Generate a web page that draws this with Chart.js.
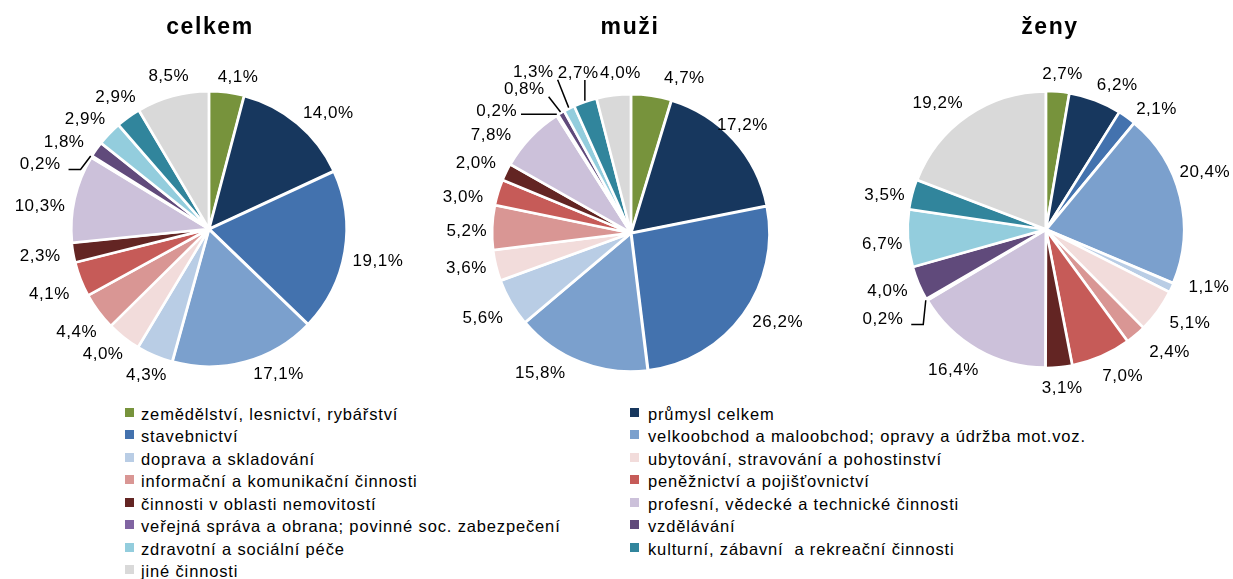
<!DOCTYPE html>
<html>
<head>
<meta charset="utf-8">
<script src="https://cdn.jsdelivr.net/npm/chart.js@4.4.0/dist/chart.umd.min.js"></script>
<style>
  body { margin: 0; width: 1233px; height: 579px; overflow: hidden; background: #fff;
         font-family: "Liberation Sans", Arial, sans-serif; position: relative; }
  canvas { position: absolute; top: 0; }
  .title { position: absolute; top: 13px; width: 200px; text-align: center;
           font-weight: bold; font-size: 23px; line-height: 26px; letter-spacing: 1.6px; color: #000; }
  .leg { position: absolute; font-size: 16.5px; line-height: 20px; letter-spacing: 0.85px;
         color: #000; white-space: pre; }
  .sq { position: absolute; width: 9px; height: 9px; }
</style>
</head>
<body>
<canvas id="c1" width="418" height="400" style="left:0px"></canvas>
<canvas id="c2" width="420" height="400" style="left:421px"></canvas>
<canvas id="c3" width="374" height="400" style="left:859px"></canvas>
<div id="titles"></div>
<div id="legend"></div>
<script>
// kategorie (pořadí jako v legendě)
const categories = [
  'zemědělství, lesnictví, rybářství',
  'průmysl celkem',
  'stavebnictví',
  'velkoobchod a maloobchod; opravy a údržba mot.voz.',
  'doprava a skladování',
  'ubytování, stravování a pohostinství',
  'informační a komunikační činnosti',
  'peněžnictví a pojišťovnictví',
  'činnosti v oblasti nemovitostí',
  'profesní, vědecké a technické činnosti',
  'veřejná správa a obrana; povinné soc. zabezpečení',
  'vzdělávání',
  'zdravotní a sociální péče',
  'kulturní, zábavní  a rekreační činnosti',
  'jiné činnosti'
];
const colors = ['#77933C', '#17375E', '#4372AE', '#7BA0CD', '#B9CDE5', '#F2DCDB', '#D99694',
  '#C65B58', '#632523', '#CCC1DA', '#8064A2', '#604A7B', '#93CDDD', '#31859C', '#D9D9D9'];

// podíly v %
const celkem = [4.1, 14.0, 19.1, 17.1, 4.3, 4.0, 4.4, 4.1, 2.3, 10.3, 0.2, 1.8, 2.9, 2.9, 8.5];
const muzi   = [4.7, 17.2, 26.2, 15.8, 5.6, 3.6, 5.2, 3.0, 2.0, 7.8, 0.2, 0.8, 1.3, 2.7, 4.0];
const zeny   = [2.7, 6.2, 2.1, 20.4, 1.1, 5.1, 2.4, 7.0, 3.1, 16.4, 0.2, 4.0, 6.7, 3.5, 19.2];

const titles = ['celkem', 'muži', 'ženy'];

// posuny popisků (Excel je rozmisťuje ručně)
const nudges1 = {0:[7,6], 1:[6,6], 2:[-5,6], 3:[23,-8], 4:[5,0], 6:[5,8], 7:[0,7], 9:[3,12],
  10:[-23,19,'elbow'], 11:[-5,5], 13:[7,-3], 14:[5,1]};
const nudges2 = {0:[28,4], 1:[-20,0], 2:[3,-4], 3:[-26,-9], 4:[1,5], 5:[3,-2], 6:[8,5], 7:[-3,11],
  9:[-15,13], 10:[-43,14,'direct'], 11:[-20,-5,'direct'], 12:[-21,-17,'direct'], 13:[4,-9,'direct'], 14:[11,-1]};
const nudges3 = {0:[2,4], 1:[10,5], 2:[10,9], 3:[-13,-19], 4:[7,-9], 5:[5,0], 6:[12,1], 7:[8,1],
  9:[-5,2], 10:[-15,9,'elbow'], 12:[8,5], 13:[5,6], 14:[-8,5]};

const labelPlugin = {
  id: 'outLabels',
  afterDatasetsDraw(chart, args, opts) {
    const ctx = chart.ctx;
    const meta = chart.getDatasetMeta(0);
    const values = chart.data.datasets[0].data;
    const nudges = opts.nudges || {};
    ctx.save();
    ctx.font = '17px "Liberation Sans", Arial, sans-serif';
    ctx.letterSpacing = '0.5px';
    ctx.fillStyle = '#000';
    ctx.textAlign = 'center';
    ctx.textBaseline = 'middle';
    meta.data.forEach((arc, i) => {
      const p = arc.getProps(['x', 'y', 'startAngle', 'endAngle', 'outerRadius'], true);
      const mid = (p.startAngle + p.endAngle) / 2;
      const ux = Math.cos(mid), uy = Math.sin(mid);
      const R = p.outerRadius + 2;
      const txt = values[i].toFixed(1).replace('.', ',') + '%';
      const w = ctx.measureText(txt).width, h = 16;
      const n = nudges[i] || [0, 0];
      const cx = p.x + (R + 12) * ux + w / 2 * ux + n[0];
      const cy = p.y + (R + 12) * uy + h / 2 * uy + n[1];
      ctx.fillText(txt, cx, cy);
      if (n[2]) {
        const ax = p.x + R * ux, ay = p.y + R * uy;
        ctx.beginPath();
        ctx.strokeStyle = '#000';
        ctx.lineWidth = 1.5;
        ctx.moveTo(ax, ay);
        if (n[2] === 'elbow') {
          const ex = cx + w / 2 + 8, ey = cy + 5;
          ctx.lineTo(ex + 12, ey);
          ctx.lineTo(ex, ey);
        } else {
          const l = cx - w / 2 - 4, r = cx + w / 2 + 4, t = cy - 7, b = cy + 7;
          ctx.lineTo(Math.min(Math.max(ax, l), r), Math.min(Math.max(ay, t), b));
        }
        ctx.stroke();
      }
    });
    ctx.restore();
  }
};

function pie(id, data, radius, padTop, nudges) {
  new Chart(document.getElementById(id), {
    type: 'pie',
    data: {
      labels: categories,
      datasets: [{
        data: data,
        backgroundColor: colors,
        borderColor: '#fff',
        borderWidth: 2.5,
        offset: 2,
        radius: radius
      }]
    },
    options: {
      responsive: false,
      animation: false,
      layout: { padding: { top: padTop, bottom: 0 } },
      plugins: {
        legend: { display: false },
        tooltip: { enabled: false },
        outLabels: { nudges: nudges }
      }
    },
    plugins: [labelPlugin]
  });
}

pie('c1', celkem, 137, 58, nudges1);
pie('c2', muzi, 138, 66, nudges2);
pie('c3', zeny, 137.5, 59, nudges3);

// nadpisy
const titleX = [210, 630, 1050];
titles.forEach((t, i) => {
  const d = document.createElement('div');
  d.className = 'title';
  d.style.left = (titleX[i] - 100) + 'px';
  d.textContent = t;
  document.getElementById('titles').appendChild(d);
});

// legenda ve dvou sloupcích
const legend = document.getElementById('legend');
categories.forEach((c, i) => {
  const col = i % 2, row = Math.floor(i / 2);
  const yc = 415 + row * 22.45;
  const sq = document.createElement('div');
  sq.className = 'sq';
  sq.style.background = colors[i];
  sq.style.left = (col ? 630 : 125) + 'px';
  sq.style.top = (yc - 7) + 'px';
  legend.appendChild(sq);
  const t = document.createElement('div');
  t.className = 'leg';
  t.style.left = (col ? 648 : 141) + 'px';
  t.style.top = (yc - 11) + 'px';
  t.textContent = c;
  legend.appendChild(t);
});
</script>
</body>
</html>
